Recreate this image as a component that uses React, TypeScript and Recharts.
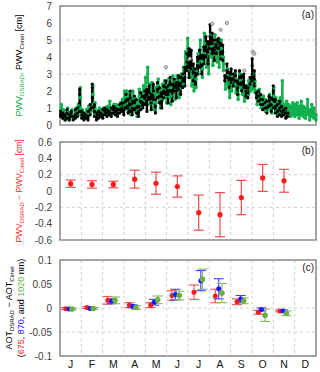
import React from 'react';
import { ComposedChart, Scatter, XAxis, YAxis, CartesianGrid, ErrorBar, ReferenceArea } from 'recharts';

const FONT = '"Liberation Sans", Arial, sans-serif';
const MONTHS = ['J', 'F', 'M', 'A', 'M', 'J', 'J', 'A', 'S', 'O', 'N', 'D'];
const GREEN_A = '#12B04F';
const RED = '#FF1A1A';
const BLUE = '#1A1AFF';
const GREEN_C = '#6DAD45';

// Panel (a): day of year -> PWV values [cm]
const cimelPWV: [number, number[]][] = [
  [1, [0.6, 0.8, 0.5]], [4, [0.4, 0.6, 0.7]], [7, [0.3, 0.5, 0.6]], [10, [0.4, 0.7, 0.9]], [13, [0.3, 0.4, 0.6]],
  [16, [0.5, 0.7, 0.8]], [19, [0.3, 0.5]], [22, [0.4, 0.6, 0.9]], [25, [0.5, 0.7, 1.0]], [28, [0.8, 1.3, 1.8, 2.1]],
  [31, [0.4, 0.6, 0.8]], [34, [0.3, 0.5, 0.7]], [37, [0.4, 0.6]], [40, [0.3, 0.5, 0.8]], [43, [0.6, 0.9, 1.2]],
  [46, [1.0, 1.6, 2.2, 2.4]], [49, [0.5, 0.8, 1.2]], [52, [0.3, 0.5, 0.7]], [55, [0.4, 0.6, 0.8]], [58, [0.5, 0.7]],
  [61, [0.4, 0.6, 0.9]], [64, [0.6, 0.8, 1.0]], [67, [0.5, 0.7, 0.9]], [70, [0.6, 0.8]], [73, [0.5, 0.7, 1.0]],
  [76, [0.7, 0.9, 1.1]], [79, [0.6, 0.8, 1.0]], [82, [0.5, 0.7, 0.9]], [85, [0.7, 0.9, 1.2]], [88, [0.8, 1.0, 1.3]],
  [91, [0.6, 0.9, 1.3]], [94, [1.0, 1.4, 1.8]], [97, [0.7, 1.0, 1.5]], [100, [0.8, 1.2, 1.6, 2.0]], [103, [0.6, 1.0, 1.4]],
  [106, [0.9, 1.3, 1.7]], [109, [0.7, 1.0, 1.5]], [112, [0.5, 0.8, 1.1]], [115, [0.9, 1.4, 1.9]], [118, [1.0, 1.3, 1.7]],
  [121, [1.2, 1.6, 2.0]], [124, [0.8, 1.2, 1.7, 2.1]], [127, [1.5, 1.9, 2.3]], [130, [0.9, 1.3, 1.8]], [133, [1.5, 2.0, 2.4]],
  [136, [0.7, 1.1, 1.5]], [139, [1.6, 2.1, 2.5]], [142, [1.3, 1.7, 2.2]], [145, [1.0, 1.4, 1.9]], [148, [1.6, 2.0, 2.3]],
  [151, [1.8, 2.2, 2.6]], [154, [1.3, 1.8, 2.3]], [157, [2.0, 2.4, 2.8]], [160, [1.4, 1.9, 2.4]], [163, [2.0, 2.3, 2.7]],
  [166, [1.6, 2.0, 2.5]], [169, [2.1, 2.5, 2.9]], [172, [1.8, 2.3, 2.8]], [175, [2.2, 2.6, 3.0]], [178, [2.3, 2.8, 3.4]],
  [181, [3.2, 3.7, 4.2]], [184, [2.8, 3.4, 3.9, 4.5]], [187, [3.3, 3.8, 4.4]], [190, [2.6, 3.1, 3.6]], [193, [2.4, 2.9, 3.3]],
  [196, [3.0, 3.5, 4.0]], [199, [3.4, 3.9, 4.4]], [202, [3.0, 3.5, 4.1]], [205, [3.6, 4.1, 4.6]], [208, [4.0, 4.6, 5.2]],
  [211, [3.6, 4.3, 4.9]], [214, [4.5, 5.2, 5.9]], [217, [4.2, 4.8, 5.4]], [220, [3.8, 4.4, 5.0]], [223, [4.2, 4.7, 5.0]],
  [226, [4.5, 4.9, 5.1]], [229, [3.9, 4.3, 4.8]], [232, [3.8, 4.3, 4.7]], [235, [2.6, 2.9]], [238, [2.8, 3.2, 3.6]],
  [241, [2.2, 2.7, 3.1]], [244, [2.5, 3.0, 3.3]], [247, [2.3, 2.7, 3.0]], [250, [2.6, 2.9, 3.2]], [253, [1.8, 2.2, 2.6]],
  [256, [2.4, 2.8, 3.2]], [259, [2.0, 2.5, 2.9]], [262, [2.2, 2.6, 3.0]], [265, [1.7, 2.0, 2.3]], [268, [1.6, 1.9, 2.2]],
  [271, [2.4, 2.8]], [274, [2.6, 3.0, 3.5, 3.9]], [277, [2.3, 2.7, 3.2]], [280, [1.6, 1.9]], [283, [1.4, 1.7, 2.0]],
  [286, [1.2, 1.5, 1.8]], [289, [0.9, 1.2, 1.5]], [292, [1.0, 1.3]], [295, [0.7, 1.0, 1.4]], [298, [1.1, 1.4, 1.7]],
  [301, [0.8, 1.2, 1.6]], [304, [1.0, 1.5, 2.0, 2.3]], [307, [0.7, 1.1, 1.5]], [310, [0.5, 0.8, 1.2]], [313, [0.6, 1.0, 1.4]],
  [316, [0.5, 0.8, 1.1]], [319, [0.6, 0.9]], [322, [0.4, 0.7, 1.0]], [325, [0.5, 0.7]],
];

const dsradPWV: [number, number[]][] = [
  [2, [0.5, 0.9, 1.2]], [5, [0.4, 0.7, 0.9]], [8, [0.3, 0.6, 0.8]], [11, [0.5, 0.8, 1.0]], [14, [0.3, 0.5, 0.7]],
  [17, [0.6, 0.8, 0.9]], [20, [0.4, 0.6]], [23, [0.5, 0.8, 1.0]], [26, [0.6, 0.9, 1.2]], [29, [1.0, 1.6, 2.2]],
  [32, [0.5, 0.7, 0.9]], [35, [0.4, 0.7]], [38, [0.5, 0.7, 0.9]], [41, [0.6, 0.9, 1.1]], [44, [0.8, 1.2]],
  [47, [1.2, 1.8, 2.3]], [50, [0.6, 0.9, 1.3]], [53, [0.5, 0.8]], [56, [0.6, 0.8, 1.0]], [59, [0.7, 0.9]],
  [62, [0.6, 0.8, 1.0]], [65, [0.8, 1.0]], [68, [0.6, 0.9, 1.1]], [71, [0.7, 1.0, 1.4]], [74, [0.6, 0.8, 1.0]],
  [77, [0.8, 1.0, 1.2]], [80, [0.7, 0.9, 1.2]], [83, [0.9, 1.1]], [86, [0.8, 1.1, 1.3]], [89, [1.0, 1.3, 1.5]],
  [92, [1.2, 1.6, 2.0]], [95, [0.9, 1.3, 1.7, 2.0]], [98, [1.0, 1.5, 1.9]], [101, [0.6, 1.0, 1.4]], [104, [1.1, 1.6, 2.0]],
  [107, [0.8, 1.2, 1.6]], [110, [0.5, 0.9, 1.3]], [113, [1.2, 1.7, 2.1]], [116, [1.0, 1.5, 1.9]], [119, [1.4, 1.9, 2.3]],
  [122, [1.6, 2.2, 2.8]], [125, [2.5, 3.0, 3.4]], [128, [1.2, 1.8, 2.4]], [131, [1.4, 2.0, 2.5]], [134, [0.9, 1.4, 1.9]],
  [137, [1.3, 1.8, 2.2]], [140, [1.8, 2.3, 2.7]], [143, [1.0, 1.5, 2.0]], [146, [1.5, 2.0, 2.4]], [149, [1.7, 2.1, 2.6]],
  [152, [1.3, 1.8, 2.3]], [155, [1.7, 2.2, 2.7]], [158, [1.2, 1.7, 2.2]], [161, [1.9, 2.4, 2.9]], [164, [1.5, 2.0, 2.6]],
  [167, [2.0, 2.5, 2.9]], [170, [1.6, 2.1, 2.6]], [173, [2.2, 2.6, 3.0]], [176, [2.4, 2.9, 3.4]], [179, [3.6, 4.0, 4.3]],
  [182, [3.2, 3.8, 4.5, 5.1]], [185, [2.8, 3.3, 3.9]], [188, [2.3, 2.8, 3.3]], [191, [2.0, 2.4, 2.9]], [194, [2.2, 2.7, 3.2]],
  [197, [3.0, 3.6, 4.2]], [200, [3.8, 4.4, 5.0]], [203, [2.8, 3.3, 3.7]], [206, [4.2, 4.8, 5.4]], [209, [3.4, 4.0, 4.6]],
  [212, [3.0, 3.6, 4.2]], [215, [4.0, 4.6, 5.3]], [218, [3.5, 4.1, 4.7]], [221, [4.4, 4.9, 5.3]], [224, [3.7, 4.2, 4.7]],
  [227, [3.4, 3.9, 4.4]], [230, [4.0, 4.5, 5.0]], [233, [3.2, 3.6, 4.0]], [236, [2.1, 2.5]], [239, [2.4, 2.9, 3.3]],
  [242, [1.6, 2.0, 2.5]], [245, [2.0, 2.5, 2.9]], [248, [2.3, 2.7, 3.0]], [251, [1.9, 2.3, 2.7]], [254, [1.5, 1.8, 2.2]],
  [257, [2.2, 2.6, 3.0]], [260, [1.8, 2.2, 2.6]], [263, [1.4, 1.7, 2.0]], [266, [1.6, 2.0, 2.3]], [269, [1.8, 2.2, 2.6]],
  [272, [2.0, 2.4]], [275, [2.1, 2.6, 3.0]], [278, [1.9, 2.3, 2.6]], [281, [1.2, 1.6, 2.0]], [284, [1.5, 1.8, 2.1]],
  [287, [1.0, 1.3, 1.6]], [290, [1.1, 1.4, 1.7]], [293, [0.8, 1.2, 1.5]], [296, [0.9, 1.3]], [299, [1.0, 1.4, 1.8]],
  [302, [0.7, 1.0, 1.3]], [305, [1.2, 1.7, 2.2]], [308, [0.8, 1.2, 1.6]], [311, [0.6, 1.0, 1.4]], [314, [0.7, 1.1, 1.6]],
  [317, [2.6, 0.9, 1.3]], [320, [0.6, 0.9, 1.2]], [323, [0.7, 1.0, 1.4]], [326, [0.6, 0.9, 1.2]], [329, [0.5, 0.8, 1.1]],
  [332, [0.6, 1.0, 1.3]], [335, [0.5, 0.8, 1.2]], [338, [0.6, 0.9, 1.3]], [341, [0.4, 0.8, 1.1]], [344, [0.6, 1.0, 1.4]],
  [347, [0.5, 0.8, 1.1]], [350, [0.4, 0.7, 1.0]], [353, [0.6, 0.9, 1.5]], [356, [0.3, 0.6, 0.9]], [359, [0.5, 0.8, 1.2]],
  [362, [0.4, 0.7, 1.0]], [365, [0.3, 0.6]],
];

const cimelGreyDays = [151, 185, 217, 229, 238, 263, 275, 277];
const cimelGreyPWV = [3.4, 3.9, 5.95, 5.6, 6.0, 3.2, 4.3, 4.2];

// Panel (b): monthly mean difference and std
const pwvDiffMean = [0.09, 0.08, 0.08, 0.145, 0.095, 0.055, -0.265, -0.29, -0.08, 0.16, 0.125];
const pwvDiffStd = [0.045, 0.045, 0.04, 0.11, 0.135, 0.13, 0.215, 0.27, 0.21, 0.165, 0.14];

// Panel (c): monthly AOT difference (675, 870, 1020 nm)
const aot675Pos = [0.28, 1.27, 2.24, 3.25, 4.25, 5.25, 6.28, 7.28, 8.3, 9.3, 10.31];
const aot675 = [-0.0014, 0.001, 0.016, 0.006, 0.006, 0.026, 0.033, 0.025, 0.013, -0.009, -0.006];
const aot675Std = [0.002, 0.002, 0.008, 0.005, 0.005, 0.01, 0.015, 0.014, 0.006, 0.004, 0.002];
const aot870Pos = [0.42, 1.41, 2.41, 3.41, 4.41, 5.41, 6.6, 7.44, 8.47, 9.44, 10.45];
const aot870 = [-0.002, -0.001, 0.014, 0.0035, 0.012, 0.028, 0.057, 0.04, 0.019, -0.003, -0.006];
const aot870Std = [0.001, 0.001, 0.005, 0.003, 0.006, 0.011, 0.021, 0.021, 0.007, 0.003, 0.002];
const aot1020Pos = [0.56, 1.56, 2.58, 3.56, 4.58, 5.59, 6.68, 7.59, 8.61, 9.61, 10.61];
const aot1020 = [-0.002, -0.001, 0.016, 0.001, 0.017, 0.026, 0.06, 0.031, 0.015, -0.015, -0.011];
const aot1020Std = [0.002, 0.002, 0.007, 0.004, 0.008, 0.009, 0.021, 0.02, 0.006, 0.013, 0.005];

const ticksA = [0, 1, 2, 3, 4, 5, 6, 7];
const ticksB = [-0.6, -0.4, -0.2, 0, 0.2, 0.4, 0.6];
const ticksC = [-0.1, -0.05, 0, 0.05, 0.1];

const flatten = (rows: [number, number[]][]) => rows.flatMap(([d, vals]) => vals.map((v) => ({ x: d, y: v })));
const ranges = (rows: [number, number[]][]) =>
  rows.map(([d, vals]) => {
    const lo = Math.min(...vals);
    const hi = Math.max(...vals);
    const mid = (lo + hi) / 2;
    return { x: d, y: mid, e: [mid - lo, hi - mid] };
  });
const dataCimel = flatten(cimelPWV);
const dataDsrad = flatten(dsradPWV);
const rangeCimel = ranges(cimelPWV);
const rangeDsrad = ranges(dsradPWV);
const dataGrey = cimelGreyDays.map((d, i) => ({ x: d, y: cimelGreyPWV[i] }));
const dataB = pwvDiffMean.map((v, i) => ({ x: i + 0.5, y: v, e: pwvDiffStd[i] }));
const mk = (pos: number[], v: number[], s: number[]) => pos.map((p, i) => ({ x: p, y: v[i], e: s[i] }));
const data675 = mk(aot675Pos, aot675, aot675Std);
const data870 = mk(aot870Pos, aot870, aot870Std);
const data1020 = mk(aot1020Pos, aot1020, aot1020Std);

const monthEdgesDays = MONTHS.map((_, i) => (i * 365) / 12).concat([365]);
const monthEdges = MONTHS.map((_, i) => i).concat([12]);
const monthCenters = MONTHS.map((_, i) => i + 0.5);

const dot = (color: string, r: number) => (p: any) => <circle cx={p.cx} cy={p.cy} r={r} fill={color} />;
const noDot = () => <g />;
const greyDot = (p: any) => <circle cx={p.cx} cy={p.cy} r={1.7} fill="#c8c8c8" stroke="#777" strokeWidth={0.7} />;

const tickStyle = { fontSize: 10, fill: '#404040', fontFamily: FONT };
const FRAME = '#8a8a8a';
const GRID = '#d0d0d0';

const LabelA = ({ viewBox }: any) => {
  const cy = viewBox.y + viewBox.height / 2;
  return (
    <text transform={`translate(22,${cy}) rotate(-90)`} textAnchor="middle" fontFamily={FONT} fontSize={9}>
      <tspan fill={GREEN_A}>PWV</tspan>
      <tspan fill={GREEN_A} fontSize={6} dy={2}>DSRAD</tspan>
      <tspan fill={GREEN_A} dy={-2}>, </tspan>
      <tspan fill="#000">PWV</tspan>
      <tspan fill="#000" fontSize={6} dy={2}>Cimel</tspan>
      <tspan fill="#000" dy={-2}> [cm]</tspan>
    </text>
  );
};

const LabelB = ({ viewBox }: any) => {
  const cy = viewBox.y + viewBox.height / 2;
  return (
    <text transform={`translate(22,${cy}) rotate(-90)`} textAnchor="middle" fontFamily={FONT} fontSize={8.5} fill={RED}>
      <tspan>PWV</tspan>
      <tspan fontSize={6} dy={2}>DSRAD</tspan>
      <tspan dy={-2}> − PWV</tspan>
      <tspan fontSize={6} dy={2}>Cimel</tspan>
      <tspan dy={-2}> [cm]</tspan>
    </text>
  );
};

const LabelC = ({ viewBox }: any) => {
  const cy = viewBox.y + viewBox.height / 2;
  return (
    <g fontFamily={FONT} fontSize={9}>
      <text transform={`translate(12,${cy}) rotate(-90)`} textAnchor="middle" fill="#000">
        <tspan>AOT</tspan>
        <tspan fontSize={6} dy={2}>DSRAD</tspan>
        <tspan dy={-2}> − AOT</tspan>
        <tspan fontSize={6} dy={2}>Cimel</tspan>
      </text>
      <text transform={`translate(24,${cy}) rotate(-90)`} textAnchor="middle" fill="#000">
        <tspan>(</tspan>
        <tspan fill={RED}>675</tspan>
        <tspan>, </tspan>
        <tspan fill={BLUE}>870</tspan>
        <tspan>, and </tspan>
        <tspan fill={GREEN_C}>1020</tspan>
        <tspan> nm)</tspan>
      </text>
    </g>
  );
};

const panelTag = (txt: string, top: number) => (
  <div style={{ position: 'absolute', top, left: 280, width: 34, textAlign: 'right', fontFamily: FONT, fontSize: 10, color: '#222' }}>{txt}</div>
);

export default function App() {
  return (
    <div style={{ position: 'absolute', left: 0, top: 0, width: 320, height: 372, background: '#fff' }}>
      <div style={{ position: 'absolute', left: 0, top: 0 }}>
        <ComposedChart width={320} height={131} margin={{ top: 6, right: 4, bottom: 6, left: 0 }}>
          <CartesianGrid stroke={GRID} strokeDasharray="3 3" verticalValues={monthEdgesDays} horizontalValues={ticksA} />
          <XAxis type="number" dataKey="x" domain={[0, 365]} ticks={monthEdgesDays} hide />
          <YAxis type="number" dataKey="y" domain={[0, 7]} ticks={ticksA} width={60} tickSize={0} tickMargin={8} axisLine={false} tick={tickStyle} label={{ content: <LabelA /> }} />
          <Scatter data={rangeDsrad} fill={GREEN_A} shape={noDot} isAnimationActive={false}>
            <ErrorBar dataKey="e" direction="y" width={0} stroke={GREEN_A} strokeWidth={2.6} />
          </Scatter>
          <Scatter data={dataDsrad} fill={GREEN_A} shape={dot(GREEN_A, 1.8)} isAnimationActive={false} />
          <Scatter data={rangeCimel} fill="#000" shape={noDot} isAnimationActive={false}>
            <ErrorBar dataKey="e" direction="y" width={0} stroke="#000" strokeWidth={2.4} />
          </Scatter>
          <Scatter data={dataCimel} fill="#000" shape={dot('#000', 1.6)} isAnimationActive={false} />
          <Scatter data={dataGrey} fill="#aaa" shape={greyDot} isAnimationActive={false} />
          <ReferenceArea x1={0} x2={365} y1={0} y2={7} fill="none" stroke={FRAME} strokeWidth={1.5} />
        </ComposedChart>
      </div>
      {panelTag('(a)', 9)}
      <div style={{ position: 'absolute', left: 0, top: 134 }}>
        <ComposedChart width={320} height={114} margin={{ top: 8, right: 4, bottom: 8, left: 0 }}>
          <CartesianGrid stroke={GRID} strokeDasharray="3 3" verticalValues={monthEdges} horizontalValues={ticksB} />
          <XAxis type="number" dataKey="x" domain={[0, 12]} ticks={monthEdges} hide />
          <YAxis type="number" dataKey="y" domain={[-0.6, 0.6]} ticks={ticksB} width={60} tickSize={0} tickMargin={8} axisLine={false} tick={tickStyle} label={{ content: <LabelB /> }} />
          <Scatter data={dataB} fill={RED} shape={dot(RED, 2.6)} isAnimationActive={false}>
            <ErrorBar dataKey="e" direction="y" width={5} stroke="#F24C4C" strokeWidth={1.2} />
          </Scatter>
          <ReferenceArea x1={0} x2={12} y1={-0.6} y2={0.6} fill="none" stroke={FRAME} strokeWidth={1.5} />
        </ComposedChart>
      </div>
      {panelTag('(b)', 145)}
      <div style={{ position: 'absolute', left: 0, top: 254 }}>
        <ComposedChart width={320} height={118} margin={{ top: 6, right: 4, bottom: 0, left: 0 }}>
          <CartesianGrid stroke={GRID} strokeDasharray="3 3" verticalValues={monthEdges} horizontalValues={ticksC} />
          <XAxis type="number" dataKey="x" domain={[0, 12]} ticks={monthCenters} tickFormatter={(v: number) => MONTHS[Math.floor(v)]} height={16} tickSize={0} tickMargin={5} axisLine={false} tick={{ fontSize: 10.5, fill: '#111', fontFamily: FONT }} interval={0} />
          <YAxis type="number" dataKey="y" domain={[-0.1, 0.1]} ticks={ticksC} width={60} tickSize={0} tickMargin={8} axisLine={false} tick={tickStyle} label={{ content: <LabelC /> }} />
          <Scatter data={data675} fill={RED} shape={dot(RED, 2.5)} isAnimationActive={false}>
            <ErrorBar dataKey="e" direction="y" width={5} stroke="#F25050" strokeWidth={1.1} />
          </Scatter>
          <Scatter data={data870} fill={BLUE} shape={dot(BLUE, 2.5)} isAnimationActive={false}>
            <ErrorBar dataKey="e" direction="y" width={5} stroke="#4040F0" strokeWidth={1.1} />
          </Scatter>
          <Scatter data={data1020} fill={GREEN_C} shape={dot(GREEN_C, 2.8)} isAnimationActive={false}>
            <ErrorBar dataKey="e" direction="y" width={5} stroke="#80B860" strokeWidth={1.1} />
          </Scatter>
          <ReferenceArea x1={0} x2={12} y1={-0.1} y2={0.1} fill="none" stroke={FRAME} strokeWidth={1.5} />
        </ComposedChart>
      </div>
      {panelTag('(c)', 262)}
    </div>
  );
}
